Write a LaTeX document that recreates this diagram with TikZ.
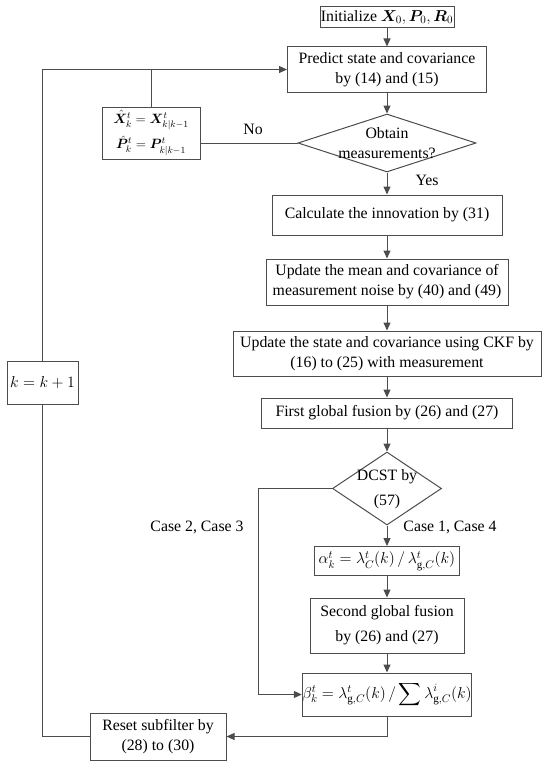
\RequirePackage{fix-cm}
\documentclass[tikz,border=0pt]{standalone}
\usepackage{amsmath, amssymb, bm}
\usepackage{fontspec}
\setmainfont{Liberation Serif}
\usepackage{tikz}
\usetikzlibrary{shapes.geometric,arrows.meta}

\definecolor{linegray}{gray}{0.3}

\tikzset{
  proc/.style={draw=linegray, line width=1pt, align=center, inner sep=0pt},
  decide/.style={draw=linegray, line width=1pt, diamond, inner sep=0pt},
  flow/.style={draw=linegray, line width=1pt, -{Triangle[length=8pt,width=7pt]}},
  link/.style={draw=linegray, line width=1pt},
  tag/.style={inner sep=0pt, align=center}
}

\begin{document}
\begin{tikzpicture}[x=1pt, y=-1pt, font=\fontsize{15.8}{20}\selectfont]
  \useasboundingbox (0,0) rectangle (550,768);
  % main column
  \node[proc, minimum width=134pt, minimum height=21pt] (init) at (387,17.5)
       {Initialize $\bm{X}_0, \bm{P}_0, \bm{R}_0$};
  \node[proc, minimum width=199pt, minimum height=45pt] (predict) at (387,69.5)
       {Predict state and covariance\\by (14) and (15)};
  \node[decide, minimum width=178pt, minimum height=58pt] (obtain) at (387,143) {};
  \node[tag] (obtaintxt) at (387,143) {Obtain\\measurements?};
  \node[proc, minimum width=230pt, minimum height=40pt] (calc) at (387,215)
       {Calculate the innovation by (31)};
  \node[proc, minimum width=242pt, minimum height=46pt] (upmean) at (387,282)
       {Update the mean and covariance of\\measurement noise by (40) and (49)};
  \node[proc, minimum width=308pt, minimum height=45pt] (upstate) at (387,353.5)
       {Update the state and covariance using CKF by\\(16) to (25) with measurement};
  \node[proc, minimum width=251pt, minimum height=30pt] (first) at (387,413)
       {First global fusion by (26) and (27)};
  \node[decide, minimum width=109pt, minimum height=73pt] (dcst) at (387,488.5) {};
  \node[tag] (dcsttxt) at (387,489) {DCST by\\[5pt](57)};
  \node[proc, minimum width=145pt, minimum height=29pt] (alpha) at (387,561)
       {$\alpha_k^t = \lambda_C^t(k) \,/\, \lambda_{\mathrm{g},C}^t(k)$};
  \node[proc, minimum width=154pt, minimum height=55pt] (second) at (387,625.5)
       {Second global fusion\\[5pt]by (26) and (27)};
  \node[proc, minimum width=167pt, minimum height=43pt] (beta) at (387,694.5)
       {$\beta_k^t = \lambda_{\mathrm{g},C}^t(k) \,/ \displaystyle\sum \lambda_{\mathrm{g},C}^i(k)$};
  % side boxes
  \node[proc, minimum width=98pt, minimum height=52pt, font=\fontsize{13.5}{16}\selectfont] (keep) at (151,133)
       {$\hat{\bm{X}}_k^t = \bm{X}_{k|k-1}^t$\\[5pt]$\hat{\bm{P}}_k^t = \bm{P}_{k|k-1}^t$};
  \node[proc, minimum width=136pt, minimum height=47pt] (reset) at (158,736.5)
       {Reset subfilter by\\(28) to (30)};
  \node[proc, minimum width=71pt, minimum height=43pt] (kstep) at (42.5,382.5)
       {$k = k+1$};
  % branch labels
  \node[tag] (no) at (253,129) {No};
  \node[tag] (yes) at (427,180) {Yes};
  \node[tag] (c14) at (450,527) {Case 1, Case 4};
  \node[tag] (c23) at (197,527) {Case 2, Case 3};
  \coordinate (turn) at (258,488.5);
  % connectors
  \draw[flow] (init) -- (predict);
  \draw[flow] (predict) -- (obtain.north);
  \draw[flow] (obtain.south) -- (calc);
  \draw[link] (obtain.west) -- (obtain.west -| keep.east);
  \draw[link] (keep.north) -- (keep.north |- predict.west);
  \draw[flow] (calc) -- (upmean);
  \draw[flow] (upmean) -- (upstate);
  \draw[flow] (upstate) -- (first);
  \draw[flow] (first) -- (dcst.north);
  \draw[flow] (dcst.south) -- (alpha);
  \draw[flow] (alpha) -- (second);
  \draw[flow] (second) -- (beta);
  \draw[flow] (dcst.west) -- (turn) |- (beta.west);
  \draw[flow] (beta.south) |- (reset.east);
  % loop back
  \draw[link] (reset.west) -| (kstep.south);
  \draw[flow] (kstep.north) |- (predict.west);
\end{tikzpicture}
\end{document}
